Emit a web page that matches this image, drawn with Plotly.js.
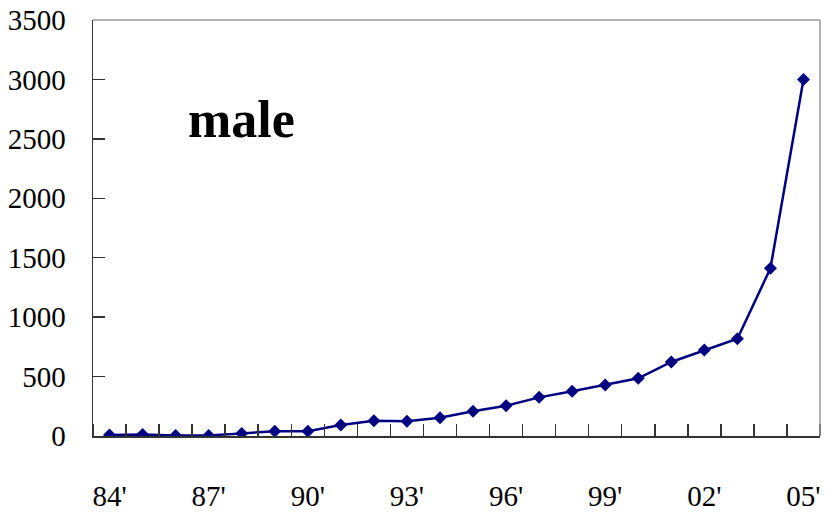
<!DOCTYPE html>
<html>
<head>
<meta charset="utf-8">
<script src="https://cdn.plot.ly/plotly-3.0.1.min.js"></script>
<style>
  html, body { margin: 0; padding: 0; background: #fff; }
  #chart { width: 827px; height: 520px; }
</style>
</head>
<body>
<div id="chart"></div>
<script>
// Yearly counts, 1984 through 2005
const years = ["84'", "85'", "86'", "87'", "88'", "89'", "90'", "91'", "92'", "93'", "94'",
               "95'", "96'", "97'", "98'", "99'", "00'", "01'", "02'", "03'", "04'", "05'"];
const maleCounts = [8, 12, 5, 5, 22, 40, 40, 93, 129, 124, 154,
                    208, 255, 325, 376, 429, 485, 623, 724, 819, 1411, 3000];
// Every third year carries a label
const labelEvery = 3;
const yTicks = [0, 500, 1000, 1500, 2000, 2500, 3000, 3500];

const idx = years.map((_, i) => i);
const labelIdx = idx.filter(i => i % labelEvery === 0);

const navy = '#000080';
const axisFont = { family: '"Liberation Serif", "Times New Roman", serif', size: 29, color: '#000' };

const trace = {
  x: idx,
  y: maleCounts,
  type: 'scatter',
  mode: 'lines+markers',
  line: { color: navy, width: 2.5 },
  marker: { symbol: 'diamond', size: 10, color: navy },
  hoverinfo: 'skip',
  showlegend: false
};

const layout = {
  width: 827,
  height: 520,
  margin: { l: 93, r: 7, t: 20, b: 84 },
  paper_bgcolor: '#fff',
  plot_bgcolor: '#fff',
  xaxis: {
    range: [-0.5, years.length - 0.5],
    tickmode: 'array',
    tickvals: labelIdx,
    ticktext: labelIdx.map(i => years[i]),
    ticks: '',
    ticklabelstandoff: 34,
    tickfont: axisFont,
    minor: { tickmode: 'linear', tick0: 0.5, dtick: 1, ticks: 'inside', ticklen: 12, tickcolor: '#333', tickwidth: 1.5 },
    showgrid: false,
    zeroline: false,
    showline: true,
    linecolor: '#333',
    linewidth: 1.5,
    fixedrange: true
  },
  yaxis: {
    range: [0, 3500],
    tickmode: 'array',
    tickvals: yTicks,
    ticktext: yTicks.map(String),
    ticks: 'inside',
    ticklen: 12,
    tickcolor: '#333',
    tickwidth: 1.5,
    ticklabelstandoff: 20,
    tickfont: axisFont,
    showgrid: false,
    zeroline: false,
    showline: true,
    linecolor: '#333',
    linewidth: 1.5,
    fixedrange: true
  },
  shapes: [
    { type: 'line', xref: 'paper', yref: 'paper', x0: 0, x1: 1, y0: 1, y1: 1,
      line: { color: '#999', width: 1.5 } },
    { type: 'line', xref: 'paper', yref: 'paper', x0: 1, x1: 1, y0: 0, y1: 1,
      line: { color: '#999', width: 1.5 } }
  ],
  annotations: [
    { text: '<b>male</b>', xref: 'paper', yref: 'paper', x: 0.128, y: 0.76,
      xanchor: 'left', yanchor: 'middle', showarrow: false,
      font: { family: '"Liberation Serif", "Times New Roman", serif', size: 52, color: '#000' } }
  ]
};

Plotly.newPlot('chart', [trace], layout, { staticPlot: true, displayModeBar: false });
</script>
</body>
</html>
